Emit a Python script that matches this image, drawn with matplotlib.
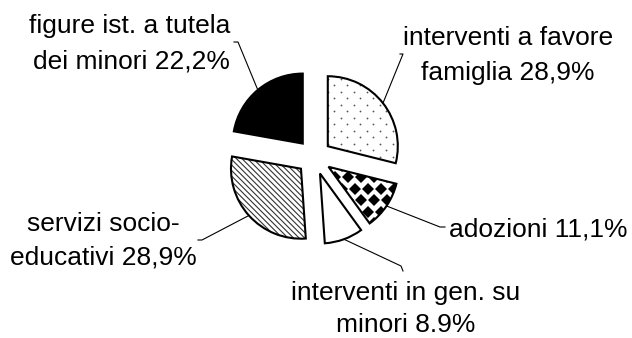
import numpy as np
import matplotlib
matplotlib.use('Agg')
import matplotlib.pyplot as plt
from matplotlib.patches import PathPatch

plt.rcParams['font.family'] = ['Liberation Sans', 'DejaVu Sans']
plt.rcParams['hatch.linewidth'] = 0.8

# data, clockwise from 12 o'clock
labels = ['interventi a favore\nfamiglia 28,9%',
          'adozioni 11,1%',
          'interventi in gen. su\nminori 8.9%',
          'servizi socio-\neducativi 28,9%',
          'figure ist. a tutela\ndei minori 22,2%']
shares = [28.9, 11.1, 8.9, 28.9, 22.2]

# layout in image pixels (y measured from the top)
W, H = 632, 338
R = 70
text_pos = [(508, 45, 'center'), (449, 236, 'left'), (406, 300, 'center'),
            (103, 231, 'center'), (230, 33, 'right')]
line_gap = [35, 35, 32, 34, 35]
elbows = [(403, 54), (440, 227), (401, 266), (202, 240), (238, 42)]
ticks = [(400, 54), (445, 227), (403, 271), (198, 240), (234, 42)]

fig = plt.figure(figsize=(W / 100, H / 100), dpi=100)
ax = fig.add_axes([0, 0, 1, 1])

wedges, _ = ax.pie(shares, startangle=90, counterclock=False,
                   explode=[0.25 * R] * len(shares), radius=R,
                   center=(314, H - 157),
                   colors=['white', 'white', 'white', 'white', 'black'],
                   wedgeprops=dict(edgecolor='#333333', linewidth=0))
wedges[3].set_hatch('\\\\\\\\\\\\')


def fill_pattern(w, step_x, step_y, **style):
    bb = w.get_path().get_extents()
    rows = np.arange(bb.y0 - step_y, bb.y1 + step_y, step_y)
    for i, yy in enumerate(rows):
        xs = np.arange(bb.x0 - step_x + (i % 2) * step_x / 2, bb.x1 + step_x, step_x)
        ln, = ax.plot(xs, np.full_like(xs, yy), linestyle='none', zorder=2, **style)
        ln.set_clip_path(w)


# dotted wedge and checker wedge
fill_pattern(wedges[0], 13, 6.5, marker='o', markersize=1.3, color='#555555', markeredgewidth=0)
fill_pattern(wedges[1], 13, 11.5, marker='D', markersize=5.8, color='black', markeredgewidth=0)

for w in wedges:
    ax.add_patch(PathPatch(w.get_path(), fill=False, edgecolor='black', linewidth=1.5, zorder=3))

for w, lab, (tx, ty, ha), gap, (ex, ey), (kx, ky) in zip(wedges, labels, text_pos, line_gap, elbows, ticks):
    a = np.deg2rad((w.theta1 + w.theta2) / 2)
    px = w.center[0] + w.r * np.cos(a)
    py = w.center[1] + w.r * np.sin(a)
    ax.plot([px, ex, kx], [py, H - ey, H - ky], color='black', linewidth=0.8, zorder=4)
    for j, s in enumerate(lab.split('\n')):
        ax.text(tx, H - ty - j * gap, s, ha=ha, va='baseline', fontsize=19, color='black')

ax.set_xlim(0, W)
ax.set_ylim(0, H)
ax.axis('off')

fig.savefig('out.png', dpi=100)
